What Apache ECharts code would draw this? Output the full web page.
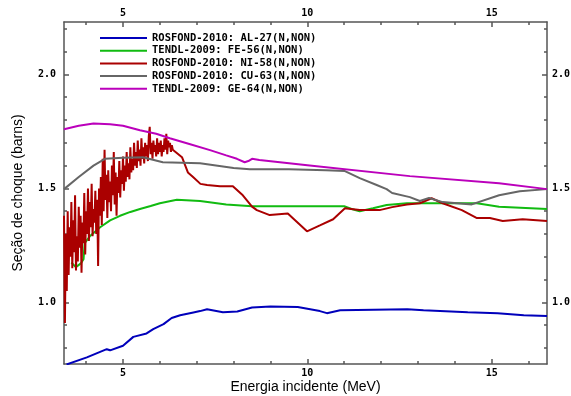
<!DOCTYPE html>
<html>
<head>
<meta charset="utf-8">
<script src="https://cdn.jsdelivr.net/npm/echarts@6/dist/echarts.min.js"></script>
<style>
  html, body { margin: 0; padding: 0; background: #fff; }
  #chart { width: 571px; height: 396px; }
</style>
</head>
<body>
<div id="chart"></div>
<script>
// axis ranges and ticks (MeV / barns)
const xRange = [3.4, 16.5]
const yRange = [0.73, 2.23]
const xMajor = [5, 10, 15]
const xMinor = [4, 6, 7, 8, 9, 11, 12, 13, 14, 16]
const yMajor = [1.0, 1.5, 2.0]
const yMinor = [0.8, 0.9, 1.1, 1.2, 1.3, 1.4, 1.6, 1.7, 1.8, 1.9, 2.1, 2.2]

const seriesNames = [
  'ROSFOND-2010: AL-27(N,NON)',
  'TENDL-2009: FE-56(N,NON)',
  'ROSFOND-2010: NI-58(N,NON)',
  'ROSFOND-2010: CU-63(N,NON)',
  'TENDL-2009: GE-64(N,NON)',
]
const seriesColors = ['#0000bb', '#11bb11', '#aa0000', '#666666', '#bb00bb']

// AL-27
const al27 = [
  [3.47, 0.728], [4.02, 0.759], [4.38, 0.783], [4.56, 0.795], [4.65, 0.79],
  [5.0, 0.81], [5.28, 0.849], [5.64, 0.864], [5.82, 0.883], [6.1, 0.905],
  [6.32, 0.932], [6.55, 0.944], [6.91, 0.956], [7.09, 0.962], [7.28, 0.97],
  [7.71, 0.957], [8.1, 0.96], [8.5, 0.978], [9.0, 0.982], [9.74, 0.98],
  [10.34, 0.962], [10.53, 0.953], [10.89, 0.966], [12.71, 0.97], [13.15, 0.966],
  [14.35, 0.957], [15.16, 0.953], [15.87, 0.944], [16.5, 0.94],
]

// FE-56
const fe56 = [
  [3.6, 1.175], [3.72, 1.155], [3.85, 1.17], [3.93, 1.19], [3.96, 1.26],
  [4.1, 1.29], [4.38, 1.33], [4.65, 1.36], [4.92, 1.38], [5.2, 1.397],
  [5.46, 1.41], [5.75, 1.423], [6.0, 1.435], [6.46, 1.45], [7.09, 1.445],
  [7.8, 1.43], [8.5, 1.422], [9.5, 1.422], [10.5, 1.422], [11.0, 1.422],
  [11.2, 1.41], [11.42, 1.4], [11.78, 1.413], [12.15, 1.427], [12.7, 1.435],
  [13.05, 1.435], [14.6, 1.435], [15.2, 1.42], [16.5, 1.41],
]

// NI-58: resonance region, energies 3.400 .. 6.350 in 0.025 MeV steps
const ni58ResStart = 3.4
const ni58ResStep = 0.025
const ni58Res = [
  1.38, 0.91, 1.30, 1.05, 1.40, 1.12, 1.33, 1.20, 1.44, 1.15,
  1.36, 1.22, 1.47, 1.14, 1.29, 1.18, 1.42, 1.24, 1.38, 1.13,
  1.35, 1.26, 1.48, 1.21, 1.40, 1.30, 1.50, 1.27, 1.44, 1.33,
  1.52, 1.29, 1.41, 1.35, 1.49, 1.30, 1.45, 1.16, 1.50, 1.38,
  1.55, 1.34, 1.63, 1.40, 1.67, 1.45, 1.56, 1.37, 1.58, 1.44,
  1.53, 1.40, 1.60, 1.47, 1.66, 1.43, 1.57, 1.38, 1.55, 1.48,
  1.62, 1.46, 1.58, 1.52, 1.64, 1.49, 1.60, 1.53, 1.66, 1.55,
  1.61, 1.54, 1.68, 1.57, 1.63, 1.58, 1.70, 1.60, 1.66, 1.59,
  1.71, 1.62, 1.67, 1.60, 1.72, 1.63, 1.68, 1.61, 1.70, 1.64,
  1.69, 1.62, 1.73, 1.77, 1.65, 1.70, 1.63, 1.71, 1.66, 1.69,
  1.64, 1.72, 1.65, 1.70, 1.66, 1.71, 1.64, 1.69, 1.66, 1.72,
  1.67, 1.74, 1.65, 1.71, 1.68, 1.70, 1.66, 1.69, 1.67,
]
// NI-58: smooth part above 6.35 MeV
const ni58Smooth = [
  [6.6, 1.637], [6.76, 1.57], [6.9, 1.55], [7.1, 1.52], [7.28, 1.515],
  [7.63, 1.51], [7.98, 1.51], [8.25, 1.47], [8.5, 1.42], [8.63, 1.405],
  [8.98, 1.383], [9.47, 1.39], [9.99, 1.312], [10.34, 1.338], [10.7, 1.365],
  [11.02, 1.413], [11.42, 1.405], [11.96, 1.405], [12.3, 1.418], [12.7, 1.43],
  [13.05, 1.435], [13.37, 1.457], [13.67, 1.435], [14.19, 1.405], [14.6, 1.37],
  [14.95, 1.37], [15.3, 1.357], [15.84, 1.365], [16.5, 1.357],
]

// CU-63
const cu63 = [
  [3.4, 1.497], [3.8, 1.55], [4.2, 1.6], [4.51, 1.63], [5.0, 1.635],
  [5.54, 1.637], [6.08, 1.615], [7.09, 1.61], [8.0, 1.59], [8.44, 1.584],
  [9.5, 1.584], [10.5, 1.58], [11.02, 1.576], [11.42, 1.545], [11.88, 1.515],
  [12.15, 1.497], [12.3, 1.48], [12.78, 1.462], [13.05, 1.445], [13.3, 1.458],
  [13.67, 1.44], [14.46, 1.43], [15.2, 1.47], [15.76, 1.488], [16.5, 1.497],
]

// GE-64
const ge64 = [
  [3.4, 1.76], [3.8, 1.775], [4.2, 1.785], [4.65, 1.782], [5.0, 1.775],
  [5.46, 1.755], [5.9, 1.74], [6.27, 1.72], [6.8, 1.695], [7.36, 1.668],
  [7.8, 1.645], [8.09, 1.63], [8.3, 1.615], [8.4, 1.62], [8.5, 1.63],
  [8.7, 1.625], [10.0, 1.602], [12.78, 1.554], [15.2, 1.523], [16.5, 1.497],
]

const ni58 = ni58Res
  .map((v, i) => [+(ni58ResStart + i * ni58ResStep).toFixed(3), v])
  .concat(ni58Smooth)

const allData = [al27, fe56, ni58, cu63, ge64]

const monoLabel = { fontFamily: 'DejaVu Sans Mono', fontWeight: 'bold', fontSize: 10, color: '#000' }
const axisLineStyle = { color: '#555', width: 1.5 }

function xAxisPair(position, showName) {
  const major = {
    type: 'value', min: xRange[0], max: xRange[1], position,
    axisLine: { show: true, onZero: false, lineStyle: axisLineStyle },
    axisTick: { show: true, inside: true, length: 5, customValues: xMajor, lineStyle: axisLineStyle },
    axisLabel: { show: true, customValues: xMajor, margin: 4, ...monoLabel },
    splitLine: { show: false },
  }
  if (showName) {
    Object.assign(major, {
      name: 'Energia incidente (MeV)',
      nameLocation: 'middle',
      nameGap: 16,
      nameMoveOverlap: false,
      nameTextStyle: { fontFamily: 'Liberation Sans', fontSize: 14, color: '#000', verticalAlign: 'top' },
    })
  }
  const minor = {
    type: 'value', min: xRange[0], max: xRange[1], position,
    axisLine: { show: false },
    axisTick: { show: true, inside: true, length: 3, customValues: xMinor, lineStyle: axisLineStyle },
    axisLabel: { show: false },
    splitLine: { show: false },
  }
  return [major, minor]
}

function yAxisPair(position, showName) {
  const major = {
    type: 'value', min: yRange[0], max: yRange[1], position,
    axisLine: { show: true, onZero: false, lineStyle: axisLineStyle },
    axisTick: { show: true, inside: true, length: 5, customValues: yMajor, lineStyle: axisLineStyle },
    axisLabel: {
      show: true, customValues: yMajor, margin: position === 'left' ? 8 : 5,
      formatter: (v) => v.toFixed(1), ...monoLabel,
    },
    splitLine: { show: false },
  }
  if (showName) {
    Object.assign(major, {
      name: 'Seção de choque (barns)',
      nameLocation: 'middle',
      nameGap: 39,
      nameMoveOverlap: false,
      nameTextStyle: { fontFamily: 'Liberation Sans', fontSize: 14, color: '#000' },
    })
  }
  const minor = {
    type: 'value', min: yRange[0], max: yRange[1], position,
    axisLine: { show: false },
    axisTick: { show: true, inside: true, length: 3, customValues: yMinor, lineStyle: axisLineStyle },
    axisLabel: { show: false },
    splitLine: { show: false },
  }
  return [major, minor]
}

const chart = echarts.init(document.getElementById('chart'), null, { renderer: 'canvas' })

chart.setOption({
  animation: false,
  backgroundColor: '#fff',
  grid: { left: 64, right: 24, top: 22, bottom: 32, outerBoundsMode: 'none' },
  legend: {
    orient: 'vertical',
    left: 95,
    top: 27,
    icon: 'rect',
    itemWidth: 47,
    itemHeight: 2,
    itemGap: 0.7,
    data: seriesNames,
    textStyle: { fontFamily: 'DejaVu Sans Mono', fontWeight: 'bold', fontSize: 10.5, lineHeight: 12, color: '#000' },
  },
  xAxis: [...xAxisPair('bottom', true), ...xAxisPair('top', false)],
  yAxis: [...yAxisPair('left', true), ...yAxisPair('right', false)],
  series: seriesNames.map((name, i) => ({
    name,
    type: 'line',
    xAxisIndex: 0,
    yAxisIndex: 0,
    data: allData[i],
    showSymbol: false,
    color: seriesColors[i],
    lineStyle: { width: 2, color: seriesColors[i] },
    clip: true,
  })),
})
</script>
</body>
</html>
